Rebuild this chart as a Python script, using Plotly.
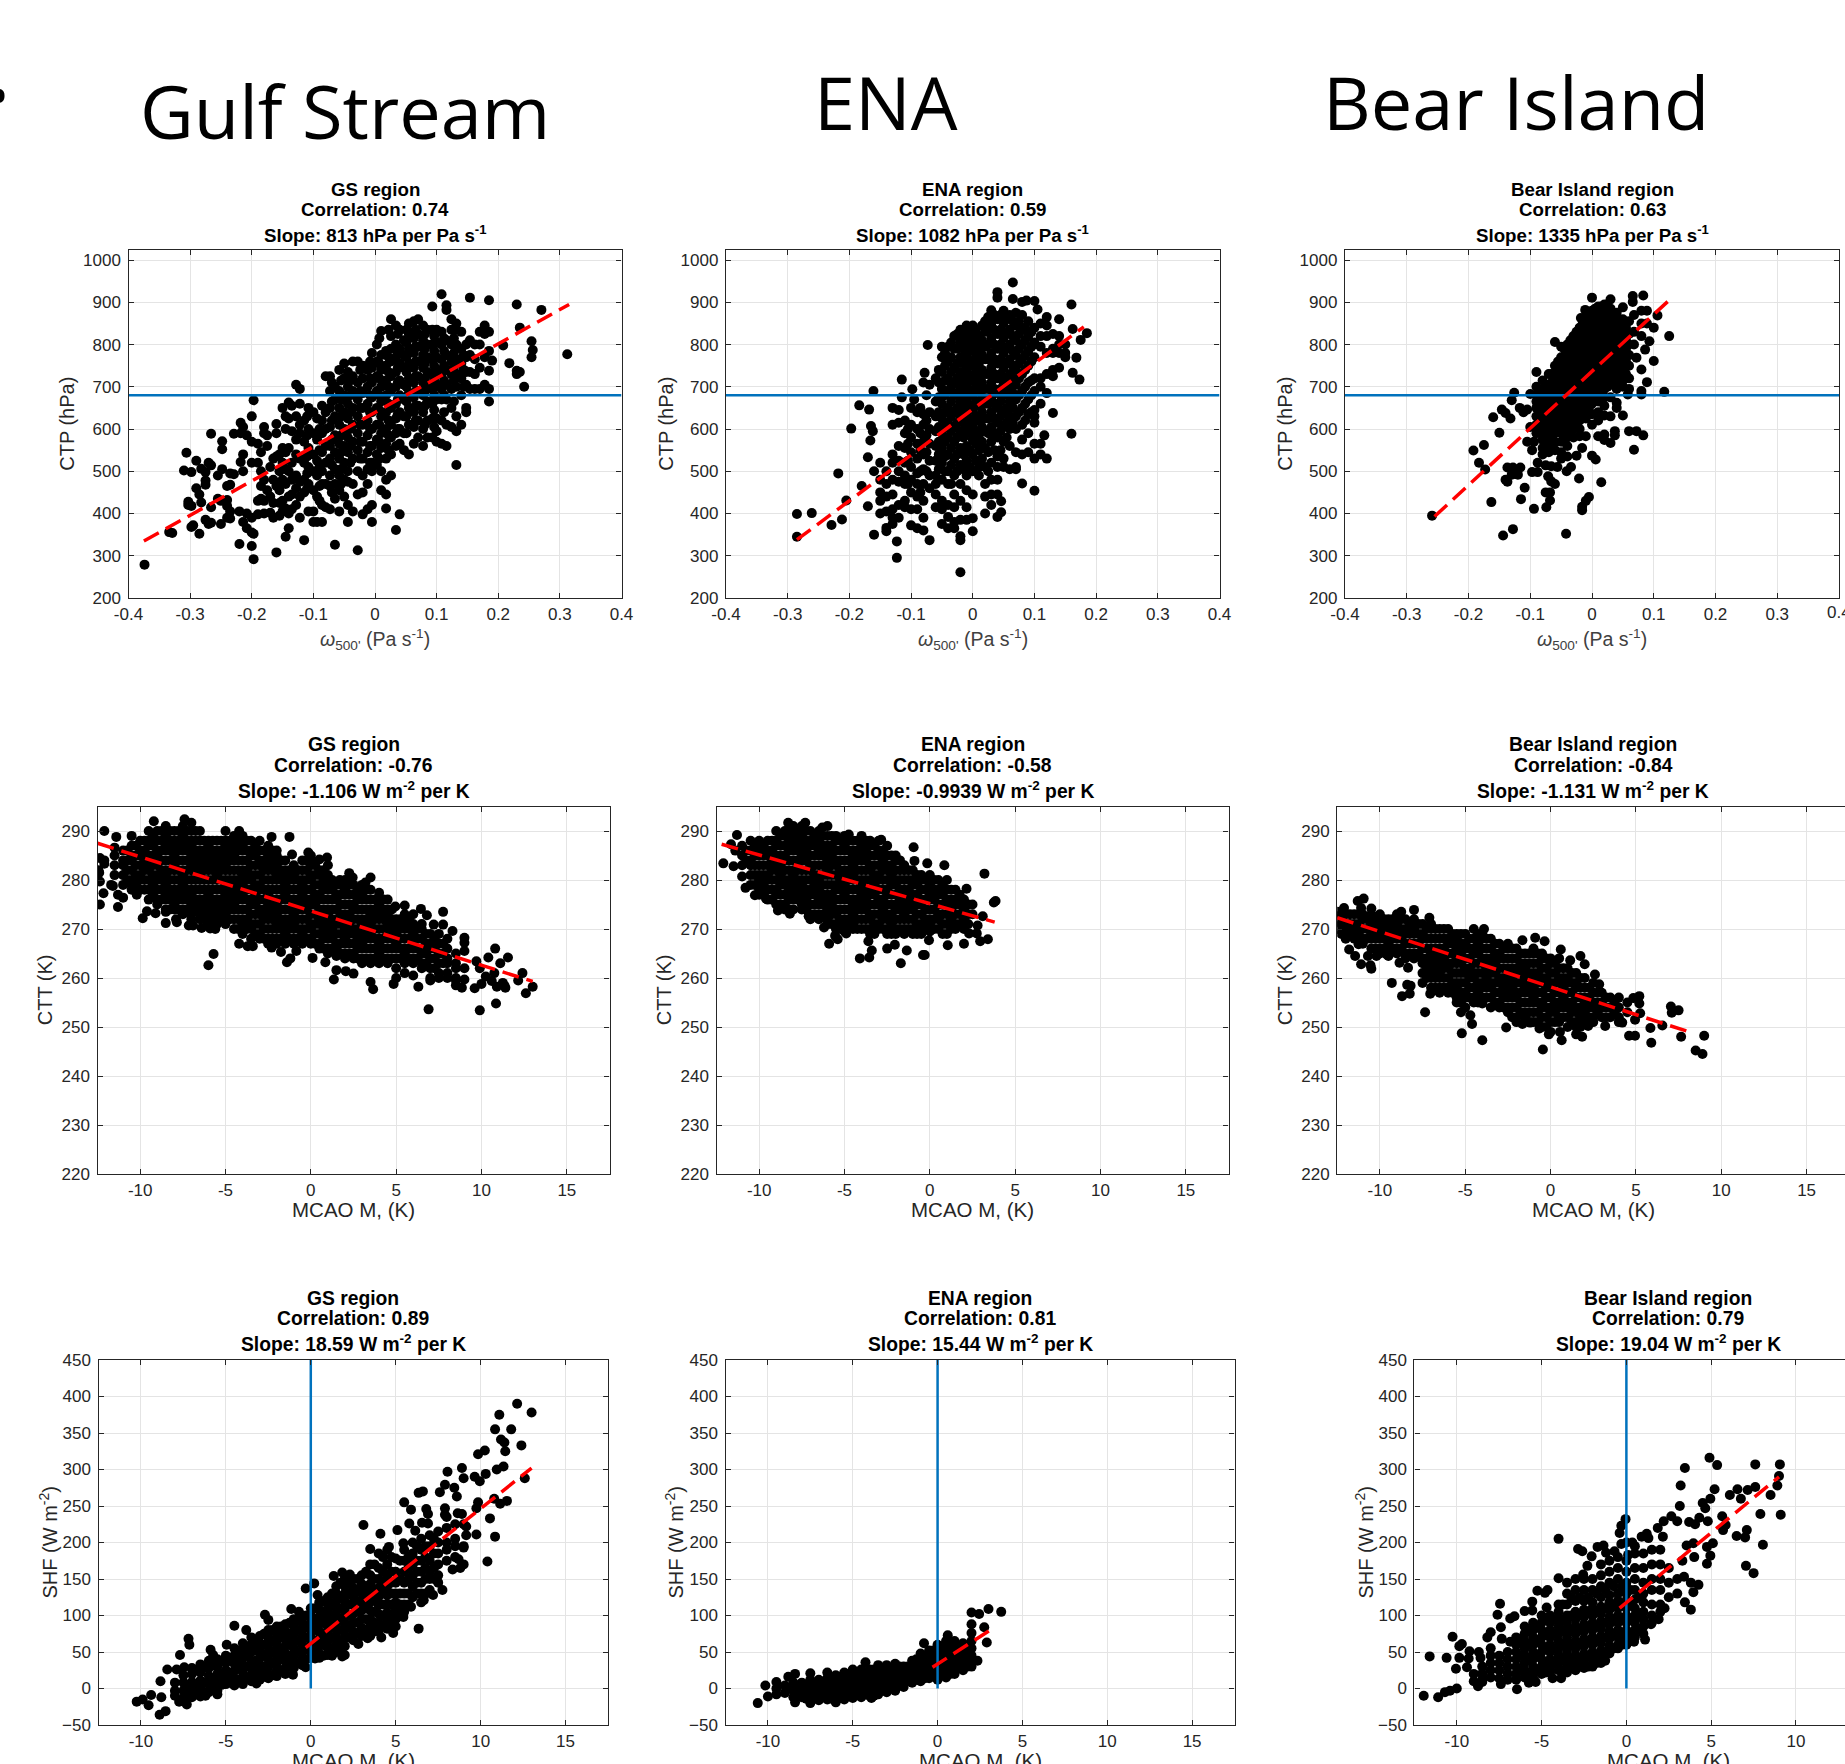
import plotly.graph_objects as go

W, H = 1845, 1764
FONT = "Liberation Sans"
TICK = "#262626"
BLUE = "#0072BD"

# Values: (x, [y, y, ...]) columns for each panel.
GS_CTP = [(-.374,[279]),(-.334,[356]),(-.329,[354]),(-.31,[502]),(-.306,[544]),(-.303,[428,420]),(-.298,[498,418,368]),(-.295,[372]),(-.29,[525,460]),(-.285,[445,352]),(-.282,[506,426]),(-.275,[498,468,478,385]),(-.27,[520,375]),(-.266,[589,514,415,378]),(-.255,[435,490]),(-.25,[430,375]),(-.248,[571,552,505]),(-.24,[465,432,418,390]),(-.235,[495,468,405,388]),(-.229,[589,493]),(-.22,[405,328]),(-.218,[615,590,522]),(-.214,[605,540,500,380]),(-.208,[585,400,365]),(-.2,[630,570,520,390,355,323]),(-.197,[668,292,352]),(-.19,[565,520,430,398]),(-.185,[545,500,465,435]),(-.18,[605,590,480,430,400]),(-.175,[585,560,455]),(-.17,[510,440,402]),(-.165,[530,480,425,390]),(-.16,[612,590,535,465,308]),(-.155,[540,500,455,425,395]),(-.15,[650,555,520,480,430,405]),(-.145,[630,600,545,505,470,345,412]),(-.14,[663,625,555,500,440,400,365]),(-.135,[655,595,520,480,445,410]),(-.128,[705,630,575,540,490,460,420]),(-.122,[695,660,610,590,530,475,440,390]),(-.115,[620,570,520,480,450,337]),(-.108,[650,600,555,510,470,405]),(-.1,[640,590,540,500,455,405,380]),(-.094,[625,575,525,490,440,380]),(-.086,[655,620,590,545,500,470,420,380]),(-.08,[725,640,600,560,520,470,415]),(-.073,[725,690,650,605,560,530,490,465,410]),(-.065,[700,670,630,585,545,505,470,435,326]),(-.058,[740,690,650,610,565,530,490,455,405]),(-.05,[755,720,680,640,600,560,520,480,440]),(-.044,[735,700,660,625,580,545,500,475,380,420]),(-.036,[760,725,690,650,610,570,530,470,405]),(-.028,[760,710,670,630,590,550,500,445,313]),(-.02,[750,720,685,650,610,570,530,490,450,398]),(-.012,[740,700,660,620,585,545,505,470,410]),(-.005,[780,745,710,675,640,600,560,520,500,380,420]),(.003,[800,760,725,690,650,610,575,540,515]),(.01,[832,775,740,700,665,630,590,555,500,455]),(.018,[785,750,715,680,640,600,565,530,480,412,445]),(.026,[860,820,790,760,725,690,650,610,580,540,490]),(.034,[845,800,770,735,700,660,625,590,560,361]),(.04,[835,790,755,715,680,640,600,565,398]),(.047,[810,775,745,705,670,630,590,550]),(.055,[850,825,790,755,720,685,650,610,540]),(.063,[855,815,780,745,710,675,640,605,565]),(.07,[860,825,795,760,725,690,655,620,580]),(.078,[845,810,775,745,710,680,640,600,560]),(.085,[835,800,770,735,700,665,620,580]),(.093,[890,835,800,765,730,695,660,625,580]),(.1,[835,805,770,740,705,670,625,595,570]),(.108,[919,830,800,765,730,695,670,620,565]),(.116,[893,882,810,775,740,705,670,610,560]),(.124,[860,835,800,760,730,695,650,605]),(.132,[850,835,800,765,730,700,630,595,515]),(.14,[830,790,755,720,680,610]),(.148,[800,770,735,705,650,640]),(.154,[911,810,775,735,695]),(.162,[800,765,730,695]),(.17,[800,745,695,830]),(.178,[845,825,770,705]),(.185,[905,830,785,738,695,665]),(.19,[762]),(.208,[798]),(.218,[756]),(.23,[895,738,730]),(.235,[840,735]),(.242,[700]),(.254,[808,770]),(.256,[787]),(.27,[882]),(.312,[777])]
GS_CTP_DENSE = [(-.11,[630,585,535,495,460]),(-.09,[600,550,510,465,430]),(-.07,[710,665,620,575,515,450]),(-.055,[715,670,630,585,545,505,470]),(-.04,[715,680,640,600,560,520]),(-.024,[740,690,650,610,570,530]),(-.008,[760,720,680,640,600,560,520]),(.007,[815,755,720,680,645,610,570,530]),(.022,[835,770,735,700,660,620,585,550]),(.037,[825,780,745,710,670,635,600]),(.051,[835,805,770,735,700,665,630,590]),(.066,[835,795,760,725,690,655,620]),(.081,[825,790,755,720,690,655,610]),(.096,[820,785,750,715,680,645,605]),(.112,[815,785,750,715,680,640]),(.128,[815,780,745,715,665]),(.144,[775,740,700])]

ENA_CTP = [(-.285,[345,399]),(-.261,[401]),(-.229,[373]),(-.218,[495]),(-.212,[386]),(-.205,[431]),(-.197,[601]),(-.184,[656]),(-.18,[465]),(-.17,[533,417]),(-.168,[646]),(-.166,[573]),(-.165,[607]),(-.162,[595]),(-.161,[690]),(-.16,[500,350]),(-.15,[520,480,450,430,400]),(-.14,[500,470,440,405,366,358]),(-.13,[650,610,540,520,480,445,410,375,390]),(-.123,[334,295]),(-.12,[645,615,560,525,500,475,420,390]),(-.115,[717,675]),(-.11,[620,590,555,520,490,470,430,415]),(-.1,[650,610,580,545,510,480,450,410,372]),(-.098,[694]),(-.095,[670]),(-.09,[640,600,565,530,495,470,440,410,365]),(-.08,[710,635,610,570,540,505,470,430,390,360]),(-.078,[733]),(-.073,[799]),(-.07,[705,640,600,565,525,490,460,337]),(-.06,[720,665,630,595,560,525,490,470,445,415]),(-.05,[795,770,735,695,660,625,590,555,520,480,430,410,375]),(-.04,[795,760,720,690,650,615,580,540,500,470,420,392,365]),(-.03,[820,790,745,710,680,640,605,570,530,490,445,415,380,365]),(-.02,[835,805,770,735,700,665,630,595,555,515,470,430,385,346,337,261]),(-.01,[845,810,775,740,705,670,635,600,560,525,490,455,415,385]),(0,[845,815,785,750,715,680,645,610,575,540,500,445,389,358]),(.01,[820,790,755,720,690,655,620,585,550,510,490]),(.02,[855,830,795,765,730,695,660,625,595,555,510,470,440,400]),(.03,[881,850,815,780,745,710,675,640,605,570,520,480,445,420]),(.04,[924,911,860,825,790,755,720,685,650,615,580,535,510,480,445,392]),(.046,[403,429]),(.05,[880,850,815,780,745,710,680,640,605,570,530,510]),(.06,[870,835,800,765,730,700,665,630,600,560,505]),(.065,[947,908]),(.07,[875,845,810,775,740,705,670,630,600,545,510,505]),(.08,[901,870,835,800,765,730,690,650,610,575,540,471]),(.087,[904]),(.09,[855,820,785,750,710,670,635,590,545]),(.1,[903,840,805,770,720,690,645,630,615,565,530,454]),(.105,[883]),(.11,[850,820,795,720,700,660,540,565]),(.116,[585]),(.12,[865,845,820,780,730,685,530]),(.13,[825,790,780,725,740,638]),(.14,[860,820,800,780,745]),(.15,[800,780,770]),(.16,[895,589]),(.162,[837,733]),(.168,[769]),(.173,[717]),(.175,[811]),(.185,[827])]
ENA_CTP_DENSE = [(-.105,[600,565,525,470]),(-.085,[650,590,550,500,450]),(-.075,[680,620,585,545,500]),(-.055,[740,710,675,640,605,570,540,505]),(-.045,[780,750,715,680,640,605,570,535,500]),(-.035,[805,770,735,700,665,630,595,555,515,470]),(-.025,[825,790,755,720,685,650,615,580,540,500]),(-.015,[820,790,755,720,685,650,615,580,540,505]),(-.005,[830,795,760,725,690,655,620,590,550,510]),(.005,[835,805,770,735,700,665,630,595,565,525]),(.015,[845,810,775,740,710,675,640,605,570,530]),(.025,[865,835,800,765,730,695,660,625,590,545,500]),(.035,[870,835,800,765,730,695,660,625,590,550]),(.045,[870,835,800,765,730,695,665,630,595,550]),(.055,[860,825,790,755,720,685,650,615,580]),(.065,[855,820,785,750,720,685,650,615]),(.075,[855,825,790,755,720,680,640]),(.085,[840,810,775,740,700,660,620]),(.095,[830,795,760,715,680,640])]

BI_CTP = [(-.259,[395]),(-.192,[549]),(-.183,[520]),(-.175,[562]),(-.173,[504]),(-.163,[427]),(-.16,[628]),(-.15,[591]),(-.146,[646]),(-.144,[348]),(-.14,[638,480]),(-.137,[509,475]),(-.132,[625]),(-.13,[668,492]),(-.128,[509,363]),(-.126,[686]),(-.12,[492]),(-.117,[650]),(-.116,[509]),(-.115,[434]),(-.111,[640]),(-.109,[461]),(-.105,[646,570]),(-.1,[683,605]),(-.097,[498,550]),(-.094,[411,570]),(-.09,[735,700,680,665,650,630,610,590]),(-.088,[498,520]),(-.08,[715,695,675,655,635,615,595,575,555,540]),(-.075,[514,450]),(-.074,[415]),(-.071,[488]),(-.07,[730,705,685,665,645,625,605,585,565,545]),(-.068,[450,431]),(-.066,[512,476]),(-.06,[806,750,730,710,690,670,650,630,610,590,570,550,470]),(-.056,[510]),(-.05,[795,770,750,730,710,690,670,650,630,610,590,570,545,530]),(-.042,[352]),(-.041,[500]),(-.04,[800,780,760,740,720,700,680,660,640,620,600,580,560,535]),(-.034,[510]),(-.03,[820,800,780,760,740,720,700,680,660,640,620,600,580]),(-.025,[537]),(-.021,[483]),(-.02,[840,820,800,780,760,740,720,700,680,660,640,620,600,583]),(-.018,[863]),(-.016,[555,408,416]),(-.011,[882]),(-.01,[860,840,820,800,780,760,740,720,700,680,660,640,625,430,583]),(-.005,[439]),(0,[911,880,860,840,820,800,780,760,740,720,700,680,660,635,610,537]),(.006,[528]),(.01,[890,870,850,830,810,790,770,750,730,710,690,665,640,620,583]),(.015,[474]),(.02,[895,875,855,835,815,795,775,755,735,715,695,675,655,632,574,587]),(.03,[907,885,865,845,825,805,785,765,745,725,705,675,630,567]),(.037,[595,585]),(.04,[875,855,835,815,795,775,755,735,715,695,662,650]),(.05,[888,860,840,820,800,780,760,740,715,700,632]),(.058,[682]),(.06,[855,825,800,775,750,720,695,595]),(.066,[915,901]),(.068,[870,830,800,551]),(.072,[769,595]),(.08,[880,850,820,741,690,682]),(.083,[585,916]),(.086,[788]),(.089,[880,850,711]),(.093,[808]),(.1,[840,761]),(.106,[869]),(.117,[688]),(.125,[820])]
BI_CTP_DENSE = [(-.085,[690,670,650,630,610]),(-.075,[700,680,660,640,620,600]),(-.065,[730,710,690,670,650,630,610,590]),(-.055,[760,740,720,700,680,660,640,620,600]),(-.045,[790,770,750,730,710,690,670,650,630,610,590]),(-.035,[810,790,770,750,730,710,690,670,650,630,610,590]),(-.025,[830,810,790,770,750,730,710,690,670,650,630,610]),(-.015,[850,830,810,790,770,750,730,710,690,670,650]),(-.005,[870,850,830,810,790,770,750,730,710,690,670,650]),(.005,[885,865,845,825,805,785,765,745,725,705,685]),(.015,[890,870,850,830,810,790,770,750,730,710,690,670]),(.025,[880,860,840,820,800,780,760,740,720,700]),(.035,[870,850,830,810,790,770,750,730,710]),(.045,[850,830,810,790,770,750,730]),(.055,[840,810,790,760,730])]

GS_CTT = [(-12.45,[282]),(-12.4,[281.5]),(-12.36,[284.5,279.7,275]),(-12.15,[277.3]),(-12.1,[290,284,283.3]),(-11.7,[279]),(-11.6,[278.8]),(-11.5,[286.6,285,283,281]),(-11.4,[288.8]),(-11.3,[277,274.5]),(-11,[286,284,283,281,279,276.4]),(-10.5,[289,287,285,284,282,280,279,278]),(-10.2,[277]),(-10,[288,286,285,283,281,280,278]),(-9.85,[272.2]),(-9.6,[273.6]),(-9.5,[290,288,287,285,283,282,280,278,276]),(-9.2,[292]),(-9.1,[273.2]),(-9,[290,288,286,285,283,281,280,278,276,275]),(-8.5,[291,289,287,286,284,282,281,279,277,276,274,273.5,271.2]),(-8,[290,288,287,285,283,282,280,278,277,275,274]),(-7.9,[272]),(-7.85,[271.4]),(-7.5,[291,289,287,286,284,282,281,279,277,276,274,273]),(-7.4,[292.4]),(-7.15,[270.7]),(-7,[291.7,290,288,287,285,283,282,280,278,277,275,273,272]),(-6.9,[270.7]),(-6.5,[290,288,286,285,283,281,280,278,276,275,273,272]),(-6.4,[270.2]),(-6,[288,287,285,283,282,280,278,277,275,273,272,271,262.6]),(-5.9,[270.1]),(-5.7,[264.9]),(-5.6,[270]),(-5.5,[288,286,285,283,281,280,278,276,275,273,271]),(-5,[290,288,287,285,283,282,280,278,277,275,273,272,271]),(-4.5,[289,287,285,284,282,280,279,277,275,274,272,270]),(-4.2,[290,267]),(-4,[289,287,286,284,282,281,279,277,276,274,272,271,269]),(-3.7,[266.5]),(-3.5,[288,286,285,283,281,280,278,276,275,273,271,270,268]),(-3.4,[266.5]),(-3,[288,286,284,283,281,279,278,276,274,273,271,269,268]),(-2.5,[287,285,283,282,280,278,277,275,273,272,270,268,267]),(-2.3,[288.8,266.2]),(-2,[286,285,283,281,280,278,276,275,273,271,270,268,267]),(-1.75,[265.3]),(-1.5,[284,282,281,279,277,276,274,272,271,269,267]),(-1.4,[263.2]),(-1.25,[288.8]),(-1.2,[264]),(-1.1,[285.2]),(-1,[283,281,280,278,276,275,273,271,270,268,267]),(-.85,[265.5]),(-.5,[284,282,280,279,277,275,274,272,270,269,267]),(-.15,[285.6]),(0,[285,283,281,280,278,276,275,273,271,270,268,267]),(.1,[283.6,264.1]),(.5,[284.2,282,281,279,277,276,274,272,271,269,267,266]),(.85,[263.2]),(.95,[284.6]),(1,[283,281,279,278,276,274,273,271,269,268,266,265]),(1.35,[259.7]),(1.5,[279,277,276,274,272,271,269,267,266,264.5,261.6]),(1.7,[280]),(2,[280,278,277,275,273,272,270,268,267,265,264]),(2.05,[261.4]),(2.25,[281.4]),(2.45,[280.5]),(2.5,[279,277,275,274,272,270,269,267,265,264,260.9]),(3,[279,277,276,274,272,271,269,267,266,264,263]),(3.2,[279.5]),(3.5,[280.5,278,276,274,273,271,269,268,266,264,263,259.2]),(3.65,[257.7]),(4,[277.4,275,273,272,270,268,267,265,263]),(4.5,[276,274,273,271,269,268,266,264,263]),(4.85,[258.8]),(4.95,[274.6]),(5,[272,271,269,267,266,264,262,260]),(5.5,[274.8,273,271,270,268,266,265,263,261]),(6,[273,271,269,268,266,264,263,260.5]),(6.3,[258.2]),(6.45,[274.1]),(6.5,[271,270,268,266,265,263,262]),(6.8,[272.8]),(6.9,[253.6]),(7,[269,267,266,264,262,260,259.5]),(7.2,[270.9]),(7.5,[269,267,265,263,261,260]),(7.75,[273.5,270.9]),(8,[268,266,264,263,261,260]),(8.3,[269.6]),(8.5,[265,263,262,260,259.5,258.5]),(8.85,[258]),(9,[268.2,267.2,265.5,262,259.7]),(9.6,[257.9]),(9.7,[263.4]),(9.9,[262,253.4]),(10,[258.8]),(10.25,[260.3]),(10.4,[264.2]),(10.6,[259.4]),(10.75,[261]),(10.8,[266]),(10.85,[254.8]),(10.9,[258.2]),(11.1,[263]),(11.25,[259]),(11.35,[258.4]),(11.4,[258]),(11.55,[264.2]),(12.15,[259.5]),(12.4,[261]),(12.6,[256.9]),(13,[258.2])]
GS_CTT_DENSE = [(-10.75,[286,284,282,280]),(-10.25,[287,285,283,281,279]),(-9.75,[288,286,284,282,280,278]),(-9.25,[289,287,285,283,281,279,277]),(-8.75,[290,288,286,284,282,280,278,276]),(-8.25,[290,288,286,284,282,280,278,276,274]),(-7.75,[290,288,286,284,282,280,278,276,274]),(-7.25,[290,288,286,284,282,280,278,276,274]),(-6.75,[290,288,286,284,282,280,278,276,274]),(-6.25,[288,286,284,282,280,278,276,274,272]),(-5.75,[288,286,284,282,280,278,276,274,272]),(-5.25,[288,286,284,282,280,278,276,274,272]),(-4.75,[288,286,284,282,280,278,276,274,272]),(-4.25,[288,286,284,282,280,278,276,274,272,270]),(-3.75,[288,286,284,282,280,278,276,274,272,270]),(-3.25,[287,285,283,281,279,277,275,273,271,269]),(-2.75,[286,284,282,280,278,276,274,272,270,268]),(-2.25,[286,284,282,280,278,276,274,272,270,268]),(-1.75,[284,282,280,278,276,274,272,270,268]),(-1.25,[282,280,278,276,274,272,270,268]),(-.75,[282,280,278,276,274,272,270,268]),(-.25,[284,282,280,278,276,274,272,270,268]),(.25,[283,281,279,277,275,273,271,269,267]),(.75,[282,280,278,276,274,272,270,268,266]),(1.25,[280,278,276,274,272,270,268,266]),(1.75,[279,277,275,273,271,269,267,265]),(2.25,[279,277,275,273,271,269,267,265]),(2.75,[278,276,274,272,270,268,266,264]),(3.25,[278,276,274,272,270,268,266,264]),(3.75,[276,274,272,270,268,266,264]),(4.25,[276,274,272,270,268,266,264]),(4.75,[274,272,270,268,266,264]),(5.25,[272,270,268,266,264]),(5.75,[272,270,268,266,264]),(6.25,[270,268,266,264]),(6.75,[269,267,265,263]),(7.25,[268,266,264,262]),(7.75,[267,265,263])]

ENA_CTT = [(-12.1,[283.4]),(-11.65,[287.3]),(-11.5,[282.8]),(-11.4,[286]),(-11.3,[289.2]),(-11,[287,285,283,280.7]),(-10.8,[278.4]),(-10.5,[288,286,284,283,281,279]),(-10.25,[276.9]),(-10,[288,286,285,283,281,280,278,277]),(-9.6,[276.2]),(-9.5,[288,286,285,283,281,280,278,276]),(-9,[290,288,287,285,283,282,280,278,277,275]),(-8.9,[273.8]),(-8.5,[290,289,287,285,284,282,280,279,277,275,274]),(-8.3,[291.7]),(-8.2,[273.1]),(-8,[291,289,287,286,284,282,281,279,277,276,274]),(-7.5,[291,289,287,285,284,282,280,279,277,275,274]),(-7.3,[291.7]),(-7.1,[272.6]),(-7,[290,288,287,285,283,282,280,278,277,275,273,272]),(-6.5,[290,288,286,285,283,281,280,278,276,275,273,272]),(-6.3,[290.7]),(-6.2,[270.3]),(-6,[291,289,287,286,284,282,281,279,277,276,274,272,271]),(-5.9,[267]),(-5.55,[268.6]),(-5.5,[289,288,286,284,283,281,279,278,276,274,273,271,270]),(-5.4,[267.9]),(-5,[289,287,286,284,282,281,279,277,276,274,272,271,269.5]),(-4.9,[269.1]),(-4.75,[289.3]),(-4.5,[288,286,285,283,281,280,278,276,275,273,271,270]),(-4.1,[264]),(-4,[289,287,285,284,282,280,279,277,275,274,272,270]),(-3.6,[267.5]),(-3.55,[264.2]),(-3.5,[288,287,285,283,282,280,278,277,275,273,272,270,269]),(-3.4,[265.6]),(-3,[288,286,285,283,281,280,278,276,275,273,271,270]),(-2.85,[288.2]),(-2.5,[287,285,283,282,280,278,277,275,273,272,270,269,266]),(-2.05,[266.8]),(-2,[285,284,282,280,279,277,275,274,272,270,269]),(-1.7,[263]),(-1.5,[283,282,280,278,277,275,273,272,270,269]),(-1.35,[265.6]),(-1,[282,280,279,277,275,274,272,270,269]),(-.95,[286.7]),(-.9,[283.9]),(-.5,[281,280,278,276,275,273,271,270,269]),(-.4,[264.7]),(-.3,[264.7]),(-.15,[283.4]),(-.05,[267.7]),(0,[281,279,277,276,274,272,271,269.5]),(.5,[280,278,277,275,273,272,270]),(.85,[283]),(1,[280,278,276,275,273,271,269]),(1.05,[266.7]),(1.5,[278,276,275,273,271,270]),(2,[276,274,272,270,267]),(2.15,[278.2]),(2.3,[269.1]),(2.5,[275,273]),(2.75,[269.1]),(2.8,[270.7]),(2.95,[267.5]),(3.1,[272.6]),(3.2,[281.3]),(3.4,[267.9]),(3.75,[275.4]),(3.85,[275.7])]
ENA_CTT_DENSE = [(-10.75,[286,284]),(-10.25,[287,285,283,281,279]),(-9.75,[287,285,283,281,279,277]),(-9.25,[288,286,284,282,280,278,276]),(-8.75,[289,287,285,283,281,279,277,275]),(-8.25,[290,288,286,284,282,280,278,276,274]),(-7.75,[290,288,286,284,282,280,278,276]),(-7.25,[290,288,286,284,282,280,278,276,274]),(-6.75,[289,287,285,283,281,279,277,275,273]),(-6.25,[289,287,285,283,281,279,277,275,273]),(-5.75,[289,287,285,283,281,279,277,275,273,271]),(-5.25,[288,286,284,282,280,278,276,274,272,270]),(-4.75,[288,286,284,282,280,278,276,274,272,270]),(-4.25,[288,286,284,282,280,278,276,274,272,270]),(-3.75,[288,286,284,282,280,278,276,274,272,270]),(-3.25,[287,285,283,281,279,277,275,273,271,269]),(-2.75,[286,284,282,280,278,276,274,272,270]),(-2.25,[285,283,281,279,277,275,273,271,269]),(-1.75,[284,282,280,278,276,274,272,270]),(-1.25,[282,280,278,276,274,272,270]),(-.75,[281,279,277,275,273,271,269]),(-.25,[280,278,276,274,272,270]),(.25,[280,278,276,274,272,270]),(.75,[279,277,275,273,271,269]),(1.25,[278,276,274,272,270]),(1.75,[277,275,273,271]),(2.25,[275,273,271])]

BI_CTT = [(-12.5,[273.5,272,270]),(-12.1,[274.3]),(-12,[273,271,270,268]),(-11.8,[265.8]),(-11.5,[273,271,270,268]),(-11.45,[264.5]),(-11.3,[275.7]),(-11.25,[266.9]),(-11.1,[274.3,262.8]),(-11,[273,272,270,268,267]),(-10.95,[276.2]),(-10.7,[264.5]),(-10.55,[262.6]),(-10.5,[274.2,273,271,269,268,266,261.9]),(-10.2,[264.5]),(-10,[273,271,269,268,266,265]),(-9.6,[264.8]),(-9.5,[272,271,269,267,266,264.5]),(-9.3,[259]),(-9,[273,271,269,268,266,265]),(-8.85,[263.1]),(-8.75,[273.5]),(-8.7,[256.3]),(-8.5,[272,270,269,267,265,264]),(-8.4,[258.6]),(-8.35,[262.1]),(-8.25,[256.8]),(-8.2,[258.4]),(-8,[273.9,272,270,269,267,265,264]),(-7.5,[271,269,268,266,264,263,261,259]),(-7.35,[253]),(-7.1,[272.3]),(-7.05,[256.8]),(-7,[271,270,268,266,265,263,261,260,258]),(-6.5,[270,268,266,265,263,261,260,258,257]),(-6,[270,268,267,265,263,262,260,258,257]),(-5.5,[269,268,266,264,263,261,259,258,256,255]),(-5.25,[253]),(-5.2,[248.7]),(-5,[269,267,266,264,262,261,259,257,256,254]),(-4.7,[252.4]),(-4.6,[250.6]),(-4.5,[270,268,266,265,263,261,260,258,256,255]),(-4,[269,268,266,264,263,261,259,258,256,255,254.8,247.3]),(-3.9,[270]),(-3.5,[268,266,264,263,261,259,258,256,254]),(-3,[267,265,264,262,260,259,257,255,254]),(-2.6,[249.9]),(-2.5,[267,266,264,262,261,259,257,256,254,253]),(-2,[266,264,262,261,259,257,256,254,252,251]),(-1.65,[267.7,250.6]),(-1.5,[265,263,262,260,258,257,255,253,252]),(-1.2,[250.9]),(-1,[266,265,263,261,260,258,256,255,253,251]),(-.9,[268.2]),(-.65,[249.7]),(-.5,[265,264,262,260,259,257,255,254,252,250]),(-.45,[245.4]),(-.35,[267.5]),(-.1,[248.5]),(0,[264,263,261,259,258,256,254,253,251,249]),(.5,[264,262,260,259,257,255,254,252,251]),(.55,[249]),(.6,[265.8]),(.65,[247.3]),(1,[262,260,259,257,255,254,252,250]),(1.15,[263.6]),(1.5,[261,259,258,256,254,253,251,250,248.5]),(1.75,[264.5]),(1.85,[248]),(2,[262.8,260,258,256,255,253,251]),(2.2,[250.2]),(2.5,[259,257,255,254,252,251]),(2.6,[260.7]),(2.85,[258.7]),(3,[257,255,254,252]),(3.2,[250.2]),(3.5,[256,254,252]),(4,[256,254,252,251]),(4.2,[250.9]),(4.5,[255,253]),(4.6,[248.2]),(4.85,[255.9]),(4.95,[251.5,248.2]),(5.2,[256.3,254.8]),(5.25,[252.8]),(5.85,[249.8]),(5.9,[246.8]),(6.55,[250.3]),(7.05,[254.2]),(7.1,[252.9]),(7.5,[253.4]),(7.65,[248]),(8.5,[245.2]),(8.9,[244.5]),(9,[248.2])]
BI_CTT_DENSE = [(-12.25,[273,271,269]),(-11.75,[273,271,269]),(-11.25,[273,271,269]),(-10.75,[272,270,268]),(-10.25,[272,270,268,266]),(-9.75,[272,270,268,266]),(-9.25,[272,270,268,266]),(-8.75,[272,270,268,266]),(-8.25,[271,269,267,265]),(-7.75,[271,269,267,265]),(-7.25,[270,268,266,264,262,260]),(-6.75,[270,268,266,264,262,260,258]),(-6.25,[270,268,266,264,262,260,258]),(-5.75,[269,267,265,263,261,259,257]),(-5.25,[269,267,265,263,261,259,257,255]),(-4.75,[268,266,264,262,260,258,256]),(-4.25,[269,267,265,263,261,259,257,255]),(-3.75,[268,266,264,262,260,258,256]),(-3.25,[267,265,263,261,259,257,255]),(-2.75,[266,264,262,260,258,256,254]),(-2.25,[266,264,262,260,258,256,254,252]),(-1.75,[265,263,261,259,257,255,253]),(-1.25,[265,263,261,259,257,255,253,251]),(-.75,[265,263,261,259,257,255,253,251]),(-.25,[264,262,260,258,256,254,252,250]),(.25,[263,261,259,257,255,253,251]),(.75,[262,260,258,256,254,252]),(1.25,[261,259,257,255,253,251]),(1.75,[260,258,256,254,252,250]),(2.25,[258,256,254,252]),(2.75,[257,255,253]),(3.25,[256,254,252]),(3.75,[255,253])]

GS_SHF = [(-10.25,[-18]),(-9.9,[-15]),(-9.55,[-23]),(-9.4,[-9]),(-8.9,[-36]),(-8.85,[10]),(-8.8,[-12]),(-8.55,[-31]),(-8.45,[26]),(-8,[8,-3,-10]),(-7.9,[26]),(-7.75,[-18]),(-7.7,[46]),(-7.5,[18,8,-3,-13]),(-7.45,[29]),(-7.3,[-22]),(-7.2,[68]),(-7.15,[60]),(-7,[28,20,9,-2,-12]),(-6.5,[33,22,11,0,-11]),(-6.2,[-10]),(-6,[38,28,17,6,-5]),(-5.9,[53]),(-5.75,[46]),(-5.5,[40,30,20,10,2,-3,-8]),(-5,[45,35,25,14,6]),(-4.95,[60]),(-4.5,[86,55,45,34,24,14,4]),(-4,[62,52,42,32,22,12,6]),(-3.8,[80]),(-3.5,[70,60,50,38,28,18,10]),(-3.2,[7]),(-3,[72,62,52,42,32,22,12]),(-2.7,[101]),(-2.5,[94,80,70,60,50,40,30,20,14]),(-2,[85,75,65,55,45,35,25,17]),(-1.5,[88,78,68,58,48,38,28,20]),(-1.15,[109]),(-1.05,[19]),(-1,[95,85,75,65,55,45,35,28]),(-.7,[105]),(-.5,[100,90,80,70,60,50,40,32]),(-.3,[137,29]),(0,[110,100,90,80,70,60,50,42]),(.2,[144]),(.25,[41]),(.4,[128]),(.5,[118,108,98,88,78,68,58,48,42]),(1,[125,115,105,95,85,75,65,55,46]),(1.25,[45]),(1.35,[154]),(1.5,[140,130,120,110,100,90,80,70,60,50]),(1.85,[159,44]),(2,[150,140,130,120,110,100,90,80,70,58,46]),(2.3,[156]),(2.5,[150,138,126,114,102,90,78,66]),(2.8,[61]),(3,[155,143,131,119,107,95,83,72]),(3.1,[224]),(3.35,[69]),(3.5,[191,170,155,143,131,119,107,95,85,72]),(4,[185,165,150,138,126,114,102,90,78]),(4.1,[212]),(4.15,[70]),(4.5,[190,170,155,140,128,116,104,92,82]),(4.6,[194]),(4.85,[76]),(5,[178,160,145,130,118,106,95,85]),(5.1,[217]),(5.45,[199,98]),(5.5,[255,190,175,160,145,130,115,105]),(5.8,[226]),(5.9,[245,112]),(6,[200,185,170,155,140,125]),(6.15,[216]),(6.35,[268,82]),(6.5,[205,190,175,160,145,130,118]),(6.55,[227]),(6.6,[270]),(6.65,[121]),(6.8,[246]),(6.9,[239,226]),(7,[210,195,175,160,150,135]),(7.2,[128]),(7.5,[215,200,185,170,155,145]),(7.6,[269]),(7.75,[135]),(7.9,[279,247,238]),(8,[235,220,200,190,175]),(8.05,[297]),(8.35,[163]),(8.45,[275]),(8.5,[225,205,195,180]),(8.6,[263]),(8.65,[240]),(8.7,[177]),(8.8,[165]),(8.9,[302,239]),(9,[288,225,195,193,170]),(9.15,[222,210]),(9.65,[290]),(9.75,[247,211]),(9.85,[321,255]),(9.95,[284]),(10.25,[326]),(10.3,[294]),(10.4,[174]),(10.55,[233]),(10.8,[260]),(10.85,[355,208]),(10.95,[300]),(11.1,[375]),(11.15,[253]),(11.2,[341]),(11.35,[304]),(11.4,[337]),(11.45,[325]),(11.55,[257]),(11.8,[355]),(12.15,[390]),(12.4,[333]),(12.6,[288]),(13,[378])]
GS_SHF_DENSE = [(-7.25,[5,-8]),(-6.75,[25,5,-8]),(-6.25,[28,8,-5]),(-5.75,[32,14,0]),(-5.25,[38,20,5]),(-4.75,[40,22,8]),(-4.25,[52,40,28,12]),(-3.75,[58,45,30,15]),(-3.25,[66,52,38,22,10]),(-2.75,[75,60,45,30,16]),(-2.25,[80,65,50,35,18]),(-1.75,[85,70,55,40,25]),(-1.25,[90,75,60,45,30]),(-.75,[95,80,65,50,35]),(-.25,[100,85,70,55,40]),(.25,[110,95,80,65,50]),(.75,[120,105,90,75,60,45]),(1.25,[130,115,100,85,70,55]),(1.75,[145,125,110,95,80,65,50]),(2.25,[145,130,115,100,85,70]),(2.75,[150,135,120,105,90,75]),(3.25,[160,140,125,110,95,80]),(3.75,[170,150,135,120,105,90,78]),(4.25,[180,160,145,130,115,100,85]),(4.75,[180,160,145,130,115,100,85]),(5.25,[175,150,130,115,100]),(5.75,[180,165,150,130,115]),(6.25,[195,175,160,145,130]),(6.75,[195,180,165,150,130]),(7.25,[205,185,165,150])]

ENA_SHF = [(-10.6,[-20]),(-10.15,[4]),(-10,[-11]),(-9.5,[9,0,-8]),(-9,[4,-6]),(-8.8,[16]),(-8.5,[8,-3,-12]),(-8.4,[20,-19]),(-8,[8,-2,-12]),(-7.5,[21,12,2,-8,-15,-20]),(-7,[12,2,-8,-16]),(-6.5,[22,14,4,-6,-15]),(-6,[18,8,-2,-12,-19]),(-5.5,[22,12,2,-8,-15]),(-5,[26,16,6,-4,-13]),(-4.5,[26,16,6,-4,-12]),(-4.25,[36]),(-4,[26,16,6,-4,-10]),(-3.9,[-13]),(-3.5,[32,22,12,2,-8]),(-3,[32,22,12,2,-5]),(-2.5,[34,24,14,4,-3]),(-2,[30,20,10,2]),(-1.5,[38,28,18,8]),(-1,[48,38,28,18,10]),(-.8,[62]),(-.5,[52,42,32,22,14]),(0,[60,50,40,30,20,12]),(.5,[65,55,45,35,25,15]),(.6,[73]),(1,[65,55,45,35,25,20]),(1.5,[62,52,42,32,25]),(2,[104,88,76,65,55,45,38,30]),(2.35,[38]),(2.45,[102]),(2.75,[84]),(2.9,[63]),(3,[109]),(3.75,[105])]
ENA_SHF_DENSE = [(-8.75,[0]),(-8.25,[2,-8]),(-7.75,[5,-5,-14]),(-7.25,[6,-4,-12]),(-6.75,[8,-2,-11]),(-6.25,[12,2,-8,-14]),(-5.75,[16,6,-4,-13]),(-5.25,[20,10,0,-10]),(-4.75,[20,10,0,-9]),(-4.25,[22,11,1,-8]),(-3.75,[26,16,6,-4,-10]),(-3.25,[26,16,6,-2]),(-2.75,[28,18,8,0]),(-2.25,[30,20,10,4]),(-1.75,[30,20,10]),(-1.25,[40,30,20,12]),(-.75,[44,34,24,14]),(-.25,[52,42,32,22]),(.25,[58,48,38,28,18]),(.75,[58,48,38,28,20]),(1.25,[58,48,38,28]),(1.75,[58,48,38,30])]

BI_SHF = [(-11.95,[-10]),(-11.6,[44]),(-11.1,[-12]),(-10.7,[-5]),(-10.6,[42]),(-10.4,[-3]),(-10.25,[71]),(-10.05,[27]),(-10,[0]),(-9.85,[58,42]),(-9.7,[61]),(-9.4,[29]),(-9.3,[41]),(-9.25,[51]),(-9,[20,10]),(-8.75,[3]),(-8.7,[50]),(-8.6,[42]),(-8.5,[30,20,12,9]),(-8.2,[70]),(-8,[77,55,45,35,25,15]),(-7.6,[101]),(-7.5,[45,35,25,14]),(-7.45,[116]),(-7.4,[84,6]),(-7.35,[68]),(-7,[50,40,30,20,12]),(-6.85,[96,64]),(-6.6,[99]),(-6.5,[70,60,50,40,30,20,12]),(-6.45,[-1]),(-6,[106,85,75,65,55,45,35,25,15]),(-5.75,[8]),(-5.55,[119,107]),(-5.5,[90,80,70,60,50,40,30,20,14]),(-5.35,[9]),(-5.25,[134]),(-5,[100,90,80,70,60,50,40,30,20]),(-4.8,[131]),(-4.7,[111]),(-4.65,[135]),(-4.5,[100,90,80,70,60,50,40,30,22]),(-4.35,[14]),(-4,[205,151,115,105,95,85,75,65,55,45,35,25]),(-3.85,[14]),(-3.5,[145,130,115,100,90,80,70,60,50,40,30,22]),(-3,[150,135,120,105,95,85,75,65,55,45,35,25]),(-2.85,[191]),(-2.6,[188]),(-2.55,[156]),(-2.5,[150,135,120,108,98,88,78,68,58,48,38,28]),(-2.3,[168]),(-2.05,[181]),(-2,[150,135,118,110,100,90,80,70,60,50,40,30]),(-1.7,[194]),(-1.5,[170,155,140,125,112,102,92,82,72,62,52,42,35]),(-1.35,[196]),(-1.2,[186]),(-1,[175,160,145,128,118,108,98,88,78,68,58,48]),(-.7,[188]),(-.5,[180,165,150,130,120,110,100,90,80,70,60,55]),(-.4,[213]),(-.3,[223,198]),(-.05,[232]),(0,[200,175,160,145,130,120,110,100,90,80,70,60]),(.1,[183]),(.35,[200]),(.45,[64]),(.5,[195,185,165,150,135,122,110,100,90,80,70]),(.9,[208]),(1,[185,165,145,130,118,105,95,85,75]),(1.1,[67]),(1.2,[212]),(1.3,[206]),(1.45,[88]),(1.5,[190,170,150,135,115,100,90]),(1.85,[220]),(1.9,[95]),(2,[190,170,150,135,115,105]),(2.15,[208]),(2.2,[229]),(2.25,[110]),(2.5,[165,145,125]),(2.65,[236]),(3,[229,150,130]),(3.15,[250]),(3.2,[278]),(3.3,[175]),(3.4,[153]),(3.45,[302,118]),(3.55,[196]),(3.7,[228]),(3.8,[145,108]),(3.95,[199,132]),(4,[180]),(4.05,[225]),(4.25,[142]),(4.3,[234]),(4.5,[254]),(4.65,[247]),(4.75,[194,171]),(4.8,[229]),(4.9,[316]),(4.95,[260,182]),(5.1,[199]),(5.2,[273]),(5.35,[306]),(5.65,[236]),(5.7,[217]),(5.85,[224]),(6.1,[265]),(6.5,[209]),(6.55,[273]),(6.75,[260]),(7,[207]),(7.05,[168]),(7.1,[217]),(7.15,[272]),(7.5,[158]),(7.6,[307,276]),(7.9,[239]),(8.05,[197]),(8.5,[265]),(8.9,[278]),(9,[291]),(9.05,[307]),(9.1,[238])]
BI_SHF_DENSE = [(-6.25,[65,45,25]),(-5.75,[80,60,40,20]),(-5.25,[85,65,45,25]),(-4.75,[95,75,55,35,22]),(-4.25,[95,75,55,35]),(-3.75,[115,95,80,60,40,25]),(-3.25,[125,100,80,60,40,28]),(-2.75,[125,100,80,60,40,30]),(-2.25,[125,105,85,65,45,30]),(-1.75,[130,105,85,65,45,35]),(-1.25,[135,110,90,70,50,38]),(-.75,[140,115,95,75,55]),(-.25,[140,115,95,75,60]),(.25,[135,115,95,75]),(.75,[125,100,80])]

PANELS = [
 dict(pts=GS_CTP+GS_CTP_DENSE, box=(128.5,621.5,249.5,598), xr=(-.4,.4), yr=(200,1025), row=0, head=["GS region","Correlation: 0.74","Slope: 813 hPa per Pa s<sup>-1</sup>"], fit=((-.375,.315),(335,895)), ytx=67),
 dict(pts=ENA_CTP+ENA_CTP_DENSE, box=(726,1219.5,249.5,598), xr=(-.4,.4), yr=(200,1025), row=0, head=["ENA region","Correlation: 0.59","Slope: 1082 hPa per Pa s<sup>-1</sup>"], fit=((-.285,.18),(338,842)), ytx=666),
 dict(pts=BI_CTP+BI_CTP_DENSE, box=(1345,1839,249.5,598), xr=(-.4,.4), yr=(200,1025), row=0, head=["Bear Island region","Correlation: 0.63","Slope: 1335 hPa per Pa s<sup>-1</sup>"], fit=((-.255,.125),(393,905)), ytx=1285),
 dict(pts=GS_CTT+GS_CTT_DENSE, box=(97.5,609.5,806.5,1174), xr=(-12.5,17.5), yr=(220,295), row=1, head=["GS region","Correlation: -0.76","Slope: -1.106 W m<sup>-2</sup> per K"], fit=((-12.5,13),(287.5,259.3)), ytx=45),
 dict(pts=ENA_CTT+ENA_CTT_DENSE, box=(716.5,1228.5,806.5,1174), xr=(-12.5,17.5), yr=(220,295), row=1, head=["ENA region","Correlation: -0.58","Slope: -0.9939 W m<sup>-2</sup> per K"], fit=((-12.2,3.8),(287.3,271.4)), ytx=664),
 dict(pts=BI_CTT+BI_CTT_DENSE, box=(1337.2,1845,806.5,1174), xr=(-12.5,17.25), yr=(220,295), row=1, head=["Bear Island region","Correlation: -0.84","Slope: -1.131 W m<sup>-2</sup> per K"], fit=((-12.5,8.3),(272.3,248.8)), ytx=1285, cx=1593),
 dict(pts=GS_SHF+GS_SHF_DENSE, box=(98.5,608,1360,1725), xr=(-12.5,17.5), yr=(-50,450), row=2, head=["GS region","Correlation: 0.89","Slope: 18.59 W m<sup>-2</sup> per K"], fit=((-.3,13),(56,302)), ytx=48),
 dict(pts=ENA_SHF+ENA_SHF_DENSE, box=(725.5,1234.5,1360,1725), xr=(-12.5,17.5), yr=(-50,450), row=2, head=["ENA region","Correlation: 0.81","Slope: 15.44 W m<sup>-2</sup> per K"], fit=((-.3,3.1),(29,80)), ytx=674),
 dict(pts=BI_SHF+BI_SHF_DENSE, box=(1414.4,1845,1360,1725), xr=(-12.5,12.89), yr=(-50,450), row=2, head=["Bear Island region","Correlation: 0.79","Slope: 19.04 W m<sup>-2</sup> per K"], fit=((-.4,9),(110,290)), ytx=1364, cx=1668),
]
YTITLES = ["CTP (hPa)", "CTT (K)", "SHF (W m<sup>-2</sup>)"]
XTITLES = ["<i>\u03c9</i><sub>500'</sub> (Pa s<sup>-1</sup>)", "MCAO M, (K)", "MCAO M, (K)"]
XT_Y = [639, 1209, 1760]
HEAD_Y = [(189.5,209.5,234), (744,765,790), (1298,1318,1343)]
HEAD_SIZE = [18.7, 19.3, 19.3]
YTICKS = [list(range(200,1001,100)), list(range(220,291,10)), list(range(-50,451,50))]
XTICKS = [[-.4,-.3,-.2,-.1,0,.1,.2,.3,.4], [-10,-5,0,5,10,15], [-10,-5,0,5,10,15]]
XTEXT = [["-0.4","-0.3","-0.2","-0.1","0","0.1","0.2","0.3","0.4"], ["-10","-5","0","5","10","15"], ["-10","-5","0","5","10","15"]]

fig = go.Figure()
annos = []
def px(x): return x / W
def py(y): return 1 - y / H
def text(x, y, s, size, color=TICK, bold=False, rot=0, family=FONT, xanchor="center", yanchor="middle"):
    if bold: s = "<b>" + s.replace("<sup>", "</b><sup><b>").replace("</sup>", "</b></sup><b>") + "</b>"
    annos.append(dict(x=px(x), y=py(y), xref="paper", yref="paper", text=s, showarrow=False, textangle=rot,
                      font=dict(family=family, size=size, color=color), xanchor=xanchor, yanchor=yanchor))

layout = {}
for i, p in enumerate(PANELS):
    k = "" if i == 0 else str(i + 1)
    l, r, t, b = p["box"]
    row = p["row"]
    clipped = r >= W
    layout["xaxis" + k] = dict(domain=[px(l), px(r)], range=list(p["xr"]), anchor="y" + k, tickvals=XTICKS[row], ticktext=XTEXT[row],
        ticks="inside", ticklen=5, tickcolor="#262626", tickwidth=1, showgrid=True, gridcolor="#e4e4e4", gridwidth=1, zeroline=False,
        showline=True, linecolor="#262626", linewidth=1.3, mirror="allticks", tickfont=dict(family=FONT, size=17, color=TICK))
    layout["yaxis" + k] = dict(domain=[py(b), py(t)], range=list(p["yr"]), anchor="x" + k, tickvals=YTICKS[row], ticklabelstandoff=3,
        ticks="inside", ticklen=5, tickcolor="#262626", tickwidth=1, showgrid=True, gridcolor="#e4e4e4", gridwidth=1, zeroline=False,
        showline=True, linecolor="#262626", linewidth=1.3, mirror=False if clipped else "allticks", tickfont=dict(family=FONT, size=17, color=TICK))
    xs = [x for x, col in p["pts"] for _ in col]
    ys = [y for _, col in p["pts"] for y in col]
    xa, ya = "x" + k, "y" + k
    fig.add_trace(go.Scatter(x=xs, y=ys, xaxis=xa, yaxis=ya, mode="markers", marker=dict(color="black", size=10), showlegend=False, cliponaxis=True))
    if row == 0:
        fig.add_trace(go.Scatter(x=[-.4,.4], y=[680,680], xaxis=xa, yaxis=ya, mode="lines", line=dict(color=BLUE, width=2.5), showlegend=False))
    if row == 2:
        fig.add_trace(go.Scatter(x=[0,0], y=[0,450], xaxis=xa, yaxis=ya, mode="lines", line=dict(color=BLUE, width=2.5), showlegend=False))
    fig.add_trace(go.Scatter(x=p["fit"][0], y=p["fit"][1], xaxis=xa, yaxis=ya, mode="lines", line=dict(color="#ff0000", width=3.5, dash="17px,8px"), showlegend=False))
    cx = p.get("cx", (l + r) / 2)
    for s, yy in zip(p["head"], HEAD_Y[row]):
        text(cx, yy, s, HEAD_SIZE[row], color="black", bold=True)
    text(p["ytx"], (t + b) / 2, YTITLES[row], 20, rot=-90)
    text(cx, XT_Y[row], XTITLES[row], 20.5 if row else 19.5, color="#404040" if row == 0 else TICK)

text(345, 110, "Gulf Stream", 74, color="black", family="Open Sans")
text(886, 102, "ENA", 74, color="black", family="Open Sans")
text(1516, 102, "Bear Island", 74, color="black", family="Open Sans")
text(-2, 95, "\u2022", 60, color="black", family="Open Sans")
text(1839, 612.5, "0.4", 17)

fig.update_layout(width=W, height=H, margin=dict(l=0, r=0, t=0, b=0, autoexpand=False), paper_bgcolor="white", plot_bgcolor="white", annotations=annos, **layout)
fig.write_html("out.html", config={"displayModeBar": False}, post_script="document.body.style.margin='0';")
